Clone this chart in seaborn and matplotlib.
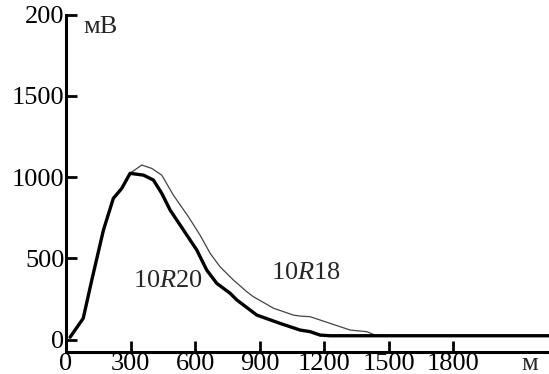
import matplotlib
matplotlib.use("Agg")
import matplotlib.pyplot as plt
import seaborn as sns
import pandas as pd

# Data
r20_x = [19, 80, 120, 174, 220, 259, 298, 360, 406, 445, 484, 546, 608, 654, 701, 763, 794, 887, 995, 1088, 1135, 1181, 1228, 2300]
r20_y = [15, 131, 367, 674, 869, 930, 1023, 1012, 982, 900, 797, 674, 551, 428, 346, 285, 244, 151, 100, 59, 49, 28, 24, 24]
r18_x = [259, 298, 352, 399, 445, 499, 569, 623, 670, 716, 778, 840, 871, 965, 1057, 1088, 1135, 1228, 1321, 1398, 1437, 1493]
r18_y = [930, 1023, 1074, 1053, 1012, 889, 756, 643, 531, 448, 367, 295, 264, 193, 151, 145, 141, 100, 59, 49, 28, 24]

xticks = [0, 300, 600, 900, 1200, 1500, 1800]
yticks = [0, 500, 1000, 1500, 2000]
ytick_labels = ["0", "500", "1000", "1500", "200"]

sns.set_style("ticks")
plt.rcParams['font.family'] = ['Liberation Serif', 'DejaVu Serif']
plt.rcParams['mathtext.fontset'] = 'custom'
plt.rcParams['mathtext.rm'] = 'Liberation Serif'
plt.rcParams['mathtext.it'] = 'Liberation Serif:italic'

FS = 19

fig = plt.figure(figsize=(5.49, 3.74), dpi=100)
ax = fig.add_axes([66/549, 1-352/374, 1-66/549, (352-14.5)/374])

df20 = pd.DataFrame({"x": r20_x, "y": r20_y})
df18 = pd.DataFrame({"x": r18_x, "y": r18_y})
sns.lineplot(data=df18, x="x", y="y", ax=ax, color="#444444", lw=0.9, sort=False)
sns.lineplot(data=df20, x="x", y="y", ax=ax, color="black", lw=2.4, sort=False)

ax.set_xlim(0, 2245)
ax.set_ylim(-76, 2000)
ax.set_xticks(xticks)
ax.set_xticklabels([str(v) for v in xticks])
ax.set_yticks(yticks)
ax.set_yticklabels(ytick_labels)
ax.set_xlabel("")
ax.set_ylabel("")
for s in ["top", "right"]:
    ax.spines[s].set_visible(False)
for s in ["left", "bottom"]:
    ax.spines[s].set_linewidth(2.2)
    ax.spines[s].set_color("black")
ax.tick_params(axis="both", direction="in", length=8, width=2, labelsize=FS,
               colors="black", pad=1)
ax.tick_params(axis="x", pad=0.5)

ax.text(474, 360, "10$\\mathit{R}$20", fontsize=FS, ha="center", va="center")
ax.text(1116, 410, "10$\\mathit{R}$18", fontsize=FS, ha="center", va="center")
fig.text(100/549, 1-27/374, "мВ", fontsize=FS, ha="center", va="center")
fig.text(530/549, 1-370/374, "м", fontsize=FS, ha="center", va="baseline")

fig.savefig("out.png", dpi=100)
